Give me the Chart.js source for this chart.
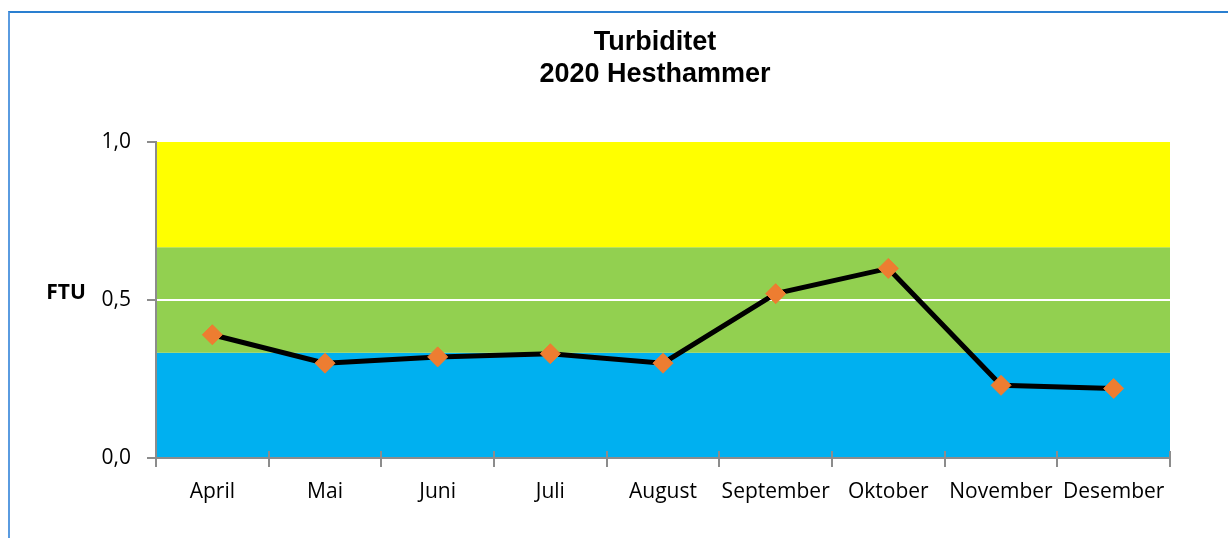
<!DOCTYPE html>
<html>
<head>
<meta charset="utf-8">
<script src="https://cdn.jsdelivr.net/npm/chart.js@4/dist/chart.umd.min.js"></script>
<style>
  html, body { margin: 0; padding: 0; background: #fff; }
  #wrap { position: relative; width: 1228px; height: 538px; overflow: hidden; }
  #frame { position: absolute; left: 8px; top: 11px; width: 1300px; height: 600px;
           border-top: 2px solid #2a7fd0; border-left: 2px solid #5a9be0; box-sizing: border-box; }
  canvas { position: absolute; left: 0; top: 0; }
</style>
</head>
<body>
<div id="wrap">
  <div id="frame"></div>
  <canvas id="c" width="1228" height="538"></canvas>
</div>
<script>
const months = ['April', 'Mai', 'Juni', 'Juli', 'August', 'September', 'Oktober', 'November', 'Desember'];
const turbidity = [0.39, 0.30, 0.32, 0.33, 0.30, 0.52, 0.60, 0.23, 0.22];
const yTicks = [0, 0.5, 1.0];
const bandBounds = [0, 0.333, 0.667, 1.0];
const bandColors = ['#00B0F0', '#92D050', '#FFFF00'];
const titleLines = ['Turbiditet', '2020 Hesthammer'];
const yAxisTitle = 'FTU';

const FONT = '"Open Sans", "Noto Sans", sans-serif';
const TITLE_FONT = 'bold 27px "Liberation Sans", Arial, sans-serif';

const bandsPlugin = {
  id: 'bands',
  beforeDraw(chart) {
    const { ctx, chartArea, scales } = chart;
    const y = scales.y;
    ctx.save();
    for (let i = 0; i < bandColors.length; i++) {
      const top = y.getPixelForValue(bandBounds[i + 1]);
      const bot = y.getPixelForValue(bandBounds[i]);
      ctx.fillStyle = bandColors[i];
      ctx.fillRect(chartArea.left, top, chartArea.right - chartArea.left, bot - top);
    }
    ctx.restore();
  },
  afterDraw(chart) {
    const { ctx, chartArea, scales } = chart;
    const x = scales.x;
    ctx.save();
    // inner part of the x-axis category tick marks
    ctx.strokeStyle = '#8c8c8c';
    ctx.lineWidth = 2;
    const n = months.length;
    const step = (x.right - x.left) / n;
    for (let i = 0; i <= n; i++) {
      const px = Math.round(x.left + i * step);
      ctx.beginPath();
      ctx.moveTo(px, chartArea.bottom - 7);
      ctx.lineTo(px, chartArea.bottom);
      ctx.stroke();
    }
    // y axis title (horizontal)
    ctx.fillStyle = '#000';
    ctx.font = 'bold 21px ' + FONT;
    ctx.textAlign = 'center';
    ctx.textBaseline = 'middle';
    ctx.fillText(yAxisTitle, 66, scales.y.getPixelForValue(0.5) - 7);
    // chart title
    ctx.font = TITLE_FONT;
    const cx = 655;
    titleLines.forEach((t, i) => ctx.fillText(t, cx, 43 + i * 32));
    ctx.restore();
  }
};

new Chart(document.getElementById('c'), {
  type: 'line',
  data: {
    labels: months,
    datasets: [{
      data: turbidity,
      borderColor: '#000000',
      borderWidth: 5,
      tension: 0,
      pointStyle: 'rectRot',
      pointRadius: 10,
      pointHoverRadius: 10,
      pointBackgroundColor: '#ED7D31',
      pointBorderColor: '#ED7D31',
      pointBorderWidth: 1
    }]
  },
  options: {
    responsive: false,
    animation: false,
    events: [],
    layout: { padding: { left: 0, right: 58, top: 142, bottom: 0 } },
    plugins: {
      legend: { display: false },
      tooltip: { enabled: false },
      title: { display: false }
    },
    scales: {
      x: {
        offset: true,
        grid: { display: true, offset: true, drawOnChartArea: false, drawTicks: true, tickLength: 9, color: '#8c8c8c', lineWidth: 2 },
        border: { display: true, color: '#8c8c8c', width: 2 },
        ticks: { color: '#000', font: { family: FONT, size: 21 }, padding: 12, autoSkip: false, maxRotation: 0, minRotation: 0 },
        afterFit(scale) { scale.height = 80; }
      },
      y: {
        min: 0,
        max: 1,
        afterBuildTicks(scale) { scale.ticks = yTicks.map(v => ({ value: v })); },
        grid: {
          color: (c) => (c.tick && c.tick.value === 0.5) ? '#ffffff' : 'rgba(0,0,0,0)',
          lineWidth: 2,
          tickColor: '#8c8c8c',
          tickLength: 9,
          drawTicks: true
        },
        border: { display: true, color: '#8c8c8c', width: 2 },
        ticks: {
          color: '#000',
          font: { family: FONT, size: 21 },
          padding: 16,
          callback: (v) => Number(v).toFixed(1).replace('.', ',')
        },
        afterFit(scale) { scale.width = 156; }
      }
    }
  },
  plugins: [bandsPlugin]
});
</script>
</body>
</html>
